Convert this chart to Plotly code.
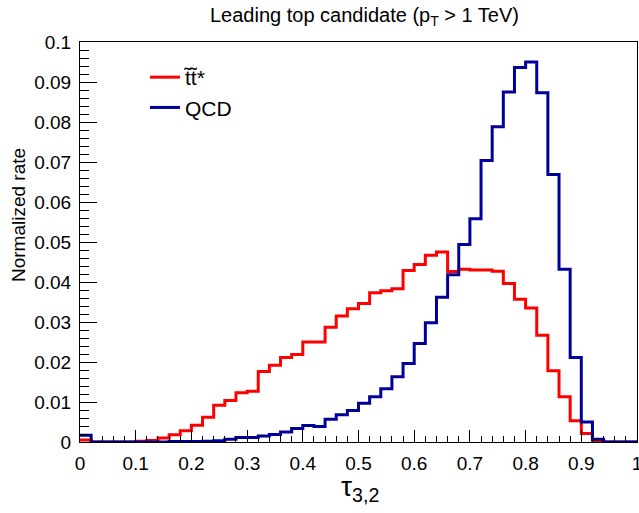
import plotly.graph_objects as go

# 50 bins of tau_32 from 0 to 1
bin_edges = [round(i * 0.02, 2) for i in range(51)]

ttbar = [0.0005, 0, 0, 0, 0, 0.0002, 0.0004, 0.0010, 0.0018, 0.0028,
         0.0042, 0.0062, 0.0092, 0.0104, 0.0123, 0.0127, 0.0176, 0.0192, 0.0211, 0.0219,
         0.0250, 0.0250, 0.0287, 0.0315, 0.0333, 0.0346, 0.0373, 0.0378, 0.0383, 0.0429,
         0.0444, 0.0467, 0.0475, 0.0426, 0.0432, 0.0430, 0.0430, 0.0427, 0.0396, 0.0357,
         0.0335, 0.0267, 0.0178, 0.0113, 0.0053, 0.0021, 0.0004, 0, 0, 0]

qcd = [0.0017, 0, 0, 0, 0, 0, 0, 0, 0.0001, 0.0001,
       0.0001, 0.0002, 0.0003, 0.0007, 0.0011, 0.0011, 0.0015, 0.0019, 0.0025, 0.0034,
       0.0041, 0.0039, 0.0057, 0.0068, 0.0079, 0.0097, 0.0113, 0.0133, 0.0163, 0.0196,
       0.0246, 0.0298, 0.0362, 0.0418, 0.0494, 0.0558, 0.0704, 0.0788, 0.0875, 0.0936,
       0.0950, 0.0873, 0.0669, 0.0432, 0.0211, 0.0050, 0.0007, 0, 0, 0]

x_tickvals = [0, 0.1, 0.2, 0.3, 0.4, 0.5, 0.6, 0.7, 0.8, 0.9, 1.0]
x_ticktext = ["0", "0.1", "0.2", "0.3", "0.4", "0.5", "0.6", "0.7", "0.8", "0.9", "1"]
y_tickvals = [0, 0.01, 0.02, 0.03, 0.04, 0.05, 0.06, 0.07, 0.08, 0.09, 0.1]
y_ticktext = ["0", "0.01", "0.02", "0.03", "0.04", "0.05", "0.06", "0.07", "0.08", "0.09", "0.1"]

FONT = "Liberation Sans, Arial, Helvetica, sans-serif"

fig = go.Figure()
fig.add_trace(go.Scatter(
    x=bin_edges, y=ttbar + [ttbar[-1]], mode="lines", line_shape="hv",
    line=dict(color="#ff0000", width=3), name="t\u0303t\u0303*"))
fig.add_trace(go.Scatter(
    x=bin_edges, y=qcd + [qcd[-1]], mode="lines", line_shape="hv",
    line=dict(color="#000099", width=3), name="QCD"))

fig.update_layout(
    width=639, height=513,
    margin=dict(l=80, r=2, t=42, b=71, autoexpand=False),
    paper_bgcolor="white", plot_bgcolor="white",
    font=dict(family=FONT, color="black"),
    showlegend=True,
    legend=dict(x=(145 - 80) / 557, y=(442 - 57) / 400, xanchor="left", yanchor="top",
                bgcolor="rgba(0,0,0,0)", borderwidth=0, font=dict(size=21),
                tracegroupgap=0),
    xaxis=dict(range=[0, 1], tickvals=x_tickvals, ticktext=x_ticktext,
               ticks="inside", ticklen=12, tickcolor="black", tickwidth=1,
               showline=True, linecolor="black", linewidth=1, mirror=True,
               showgrid=False, zeroline=False, tickfont=dict(size=19),
               ticklabelstandoff=4, ticklabeloverflow="allow", automargin=False,
               minor=dict(dtick=0.02, tick0=0, ticks="inside", ticklen=6,
                          tickcolor="black", tickwidth=1, showgrid=False)),
    yaxis=dict(range=[0, 0.1], tickvals=y_tickvals, ticktext=y_ticktext,
               ticks="inside", ticklen=17, tickcolor="black", tickwidth=1,
               showline=True, linecolor="black", linewidth=1, mirror=True,
               showgrid=False, zeroline=False, tickfont=dict(size=19),
               ticklabelstandoff=4, ticklabeloverflow="allow", automargin=False,
               minor=dict(dtick=0.002, tick0=0, ticks="inside", ticklen=9,
                          tickcolor="black", tickwidth=1, showgrid=False)),
    annotations=[
        dict(text="Leading top candidate (p<sub>T</sub> > 1 TeV)", xref="paper", yref="paper",
             x=0.51, y=(442 - 16) / 400, xanchor="center", yanchor="middle",
             showarrow=False, font=dict(size=20)),
        dict(text="Normalized rate", xref="paper", yref="paper", textangle=-90,
             x=(18 - 80) / 557, y=(442 - 215) / 400, xanchor="center", yanchor="middle",
             showarrow=False, font=dict(size=19)),
        dict(text="\u03c4<sub>3,2</sub>", xref="paper", yref="paper",
             x=(360 - 80) / 557, y=(442 - 488) / 400, xanchor="center", yanchor="middle",
             showarrow=False, font=dict(size=28)),
    ],
)

fig.write_html("out.html")
